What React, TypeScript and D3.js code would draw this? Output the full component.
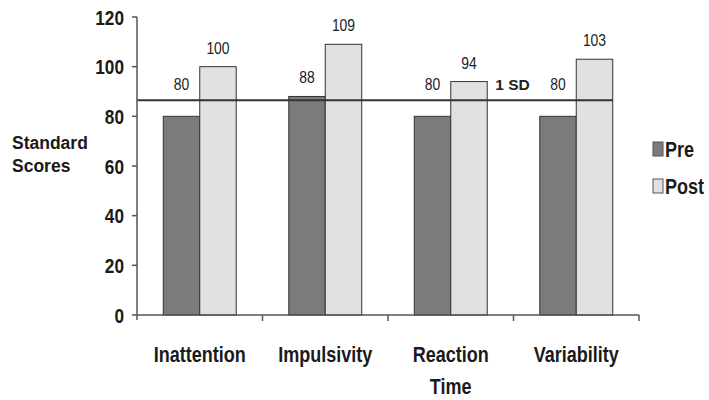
import React from "react";
import * as d3 from "d3";

const categories: string[][] = [["Inattention"], ["Impulsivity"], ["Reaction", "Time"], ["Variability"]];
const seriesNames = ["Pre", "Post"];
const preValues = [80, 88, 80, 80];
const postValues = [100, 109, 94, 103];
const yTicks = [0, 20, 40, 60, 80, 100, 120];
const sdValue = 86.5;
const sdLabel = "1 SD";
const yAxisTitle = ["Standard", "Scores"];

const colors: Record<string, string> = { Pre: "#7b7b7b", Post: "#e1e1e1" };
const SANS = "'Liberation Sans', Arial, sans-serif";
const NARROW_SCALE = 0.82;

function NText(props: {
  x: number; y: number; size: number; bold?: boolean; anchor?: "start" | "middle" | "end";
  dy?: string; children: React.ReactNode; fill?: string;
}) {
  const { x, y, size, bold, anchor = "start", dy, children, fill = "#1a1a1a" } = props;
  return (
    <text transform={`translate(${x},${y}) scale(${NARROW_SCALE},1)`} textAnchor={anchor} dy={dy}
      fontFamily={SANS} fontWeight={bold ? "bold" : "normal"} fontSize={size} fill={fill}>
      {children}
    </text>
  );
}

export default function App() {
  const W = 709, H = 400;
  const left = 137, right = 639, top = 17, bottom = 315;
  const keys = categories.map((c) => c.join(" "));
  const x0 = d3.scaleBand<string>().domain(keys).range([left, right]).padding(0);
  const x1 = d3.scaleBand<string>().domain(seriesNames).range([0, x0.bandwidth()]).paddingInner(0).paddingOuter(0.72);
  const y = d3.scaleLinear().domain([0, 120]).range([bottom, top]);
  const sdY = y(sdValue);
  const data = keys.map((k, i) => ({ key: k, Pre: preValues[i], Post: postValues[i] }));
  const lastPostRight = (x0(keys[keys.length - 1]) ?? 0) + (x1("Post") ?? 0) + x1.bandwidth();
  const axisColor = "#555";

  return (
    <svg width={W} height={H} style={{ position: "absolute", left: 0, top: 0, background: "#fff" }}>
      {/* bars */}
      {data.map((d) =>
        seriesNames.map((s) => {
          const v = (d as any)[s] as number;
          const bx = (x0(d.key) ?? 0) + (x1(s) ?? 0);
          return (
            <rect key={d.key + s} x={bx} y={y(v)} width={x1.bandwidth()} height={y(0) - y(v)}
              fill={colors[s]} stroke="#333" strokeWidth={1} />
          );
        })
      )}
      {/* SD line */}
      <line x1={left} x2={lastPostRight} y1={sdY} y2={sdY} stroke="#333" strokeWidth={2} />
      <text x={(x0(keys[2]) ?? 0) + (x1("Post") ?? 0) + x1.bandwidth() + 8} y={sdY - 10}
        fontFamily={SANS} fontSize={15.5} fontWeight={600} fill="#222">{sdLabel}</text>
      {/* value labels */}
      {data.map((d) =>
        seriesNames.map((s) => {
          const v = (d as any)[s] as number;
          const cx = (x0(d.key) ?? 0) + (x1(s) ?? 0) + x1.bandwidth() / 2;
          const ly = Math.min(y(v) - 13, sdY - 10);
          return (
            <NText key={"l" + d.key + s} x={cx} y={ly} anchor="middle" size={17} fill="#222">{v}</NText>
          );
        })
      )}
      {/* y axis */}
      <line x1={left} x2={left} y1={top} y2={bottom + 5} stroke={axisColor} strokeWidth={1.5} />
      {yTicks.map((t) => (
        <g key={"yt" + t}>
          <line x1={left - 5} x2={left} y1={y(t)} y2={y(t)} stroke={axisColor} strokeWidth={1.5} />
          <NText x={left - 13} y={y(t)} dy="0.36em" anchor="end" bold size={21}>{t}</NText>
        </g>
      ))}
      {/* x axis */}
      <line x1={left} x2={right} y1={bottom} y2={bottom} stroke={axisColor} strokeWidth={1.5} />
      {keys.map((k) => (
        <line key={"xt" + k} x1={(x0(k) ?? 0) + x0.bandwidth()} x2={(x0(k) ?? 0) + x0.bandwidth()} y1={bottom} y2={bottom + 6} stroke={axisColor} strokeWidth={1.5} />
      ))}
      {categories.map((c, i) =>
        c.map((line, j) => (
          <NText key={"c" + i + j} x={(x0(keys[i]) ?? 0) + x0.bandwidth() / 2} y={362 + j * 32}
            anchor="middle" bold size={22}>{line}</NText>
        ))
      )}
      {/* y axis title */}
      <text x={12} y={149} fontFamily={SANS} fontWeight="bold" fontSize={17.5} fill="#1a1a1a">
        {yAxisTitle.map((line, j) => (
          <tspan key={j} x={12} dy={j === 0 ? 0 : 23}>{line}</tspan>
        ))}
      </text>
      {/* legend */}
      {seriesNames.map((s, i) => (
        <g key={"lg" + s} transform={`translate(653, ${142 + i * 37})`}>
          <rect x={0} y={0} width={10} height={14} fill={colors[s]} stroke="#555" strokeWidth={1} />
          <NText x={12} y={15} bold size={22}>{s}</NText>
        </g>
      ))}
    </svg>
  );
}
